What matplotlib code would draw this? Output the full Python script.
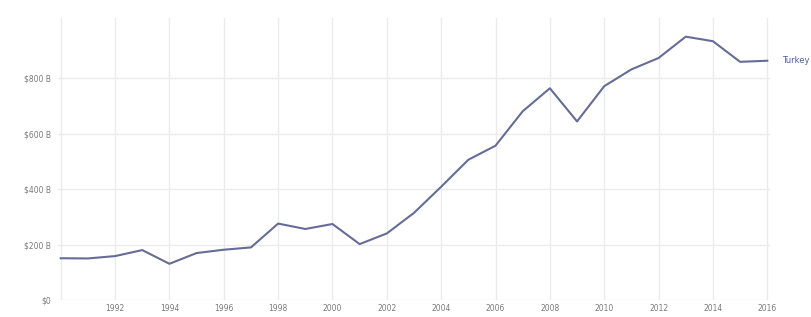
import matplotlib
matplotlib.use('Agg')
import matplotlib.pyplot as plt

years = list(range(1990, 2017))
gdp = [150.7, 150.0, 158.5, 180.2, 130.7, 169.5, 181.5, 189.8, 275.9, 256.4,
       274.3, 201.8, 240.3, 314.6, 408.9, 506.3, 557.1, 681.3, 764.3, 644.6,
       771.9, 832.5, 873.7, 950.6, 934.2, 859.8, 863.7]
series_name = 'Turkey'
ytick_vals = [0, 200, 400, 600, 800]
ytick_labels = ['$0', '$200 B', '$400 B', '$600 B', '$800 B']
xtick_vals = list(range(1992, 2017, 2))

line_col = '#676c96'
grid_col = '#ebebee'
text_col = '#7a7a7a'

fig = plt.figure(figsize=(8.11, 3.17), dpi=100, facecolor='white')
ax = fig.add_axes([58 / 811, 1 - 300 / 317, (770 - 58) / 811, (300 - 18) / 317])

ax.plot(years, gdp, color=line_col, lw=1.5, solid_joinstyle='round', zorder=3)
# series label sits just right of the last point (cut by the edge in the source)
ax.text(years[-1] + 0.55, gdp[-1], series_name, color='#4f5c98', fontsize=6,
        va='center', ha='left', clip_on=False)

ax.set_xlim(1989.9, 2016.1)
ax.set_ylim(0, 1018)
ax.set_yticks(ytick_vals)
ax.set_yticklabels(ytick_labels)
ax.set_xticks(xtick_vals)
ax.set_xticklabels([str(y) for y in xtick_vals])
ax.set_xticks(range(1990, 2017, 2), minor=True)
ax.grid(True, which='both', axis='x', color=grid_col, lw=1)
ax.grid(True, which='major', axis='y', color=grid_col, lw=1)
ax.tick_params(which='both', length=0, labelsize=5.5, labelcolor=text_col, pad=5)
ax.tick_params(axis='x', pad=3)
for s in ax.spines.values():
    s.set_visible(False)
ax.set_axisbelow(True)

fig.savefig('out.png', dpi=100, facecolor='white')
